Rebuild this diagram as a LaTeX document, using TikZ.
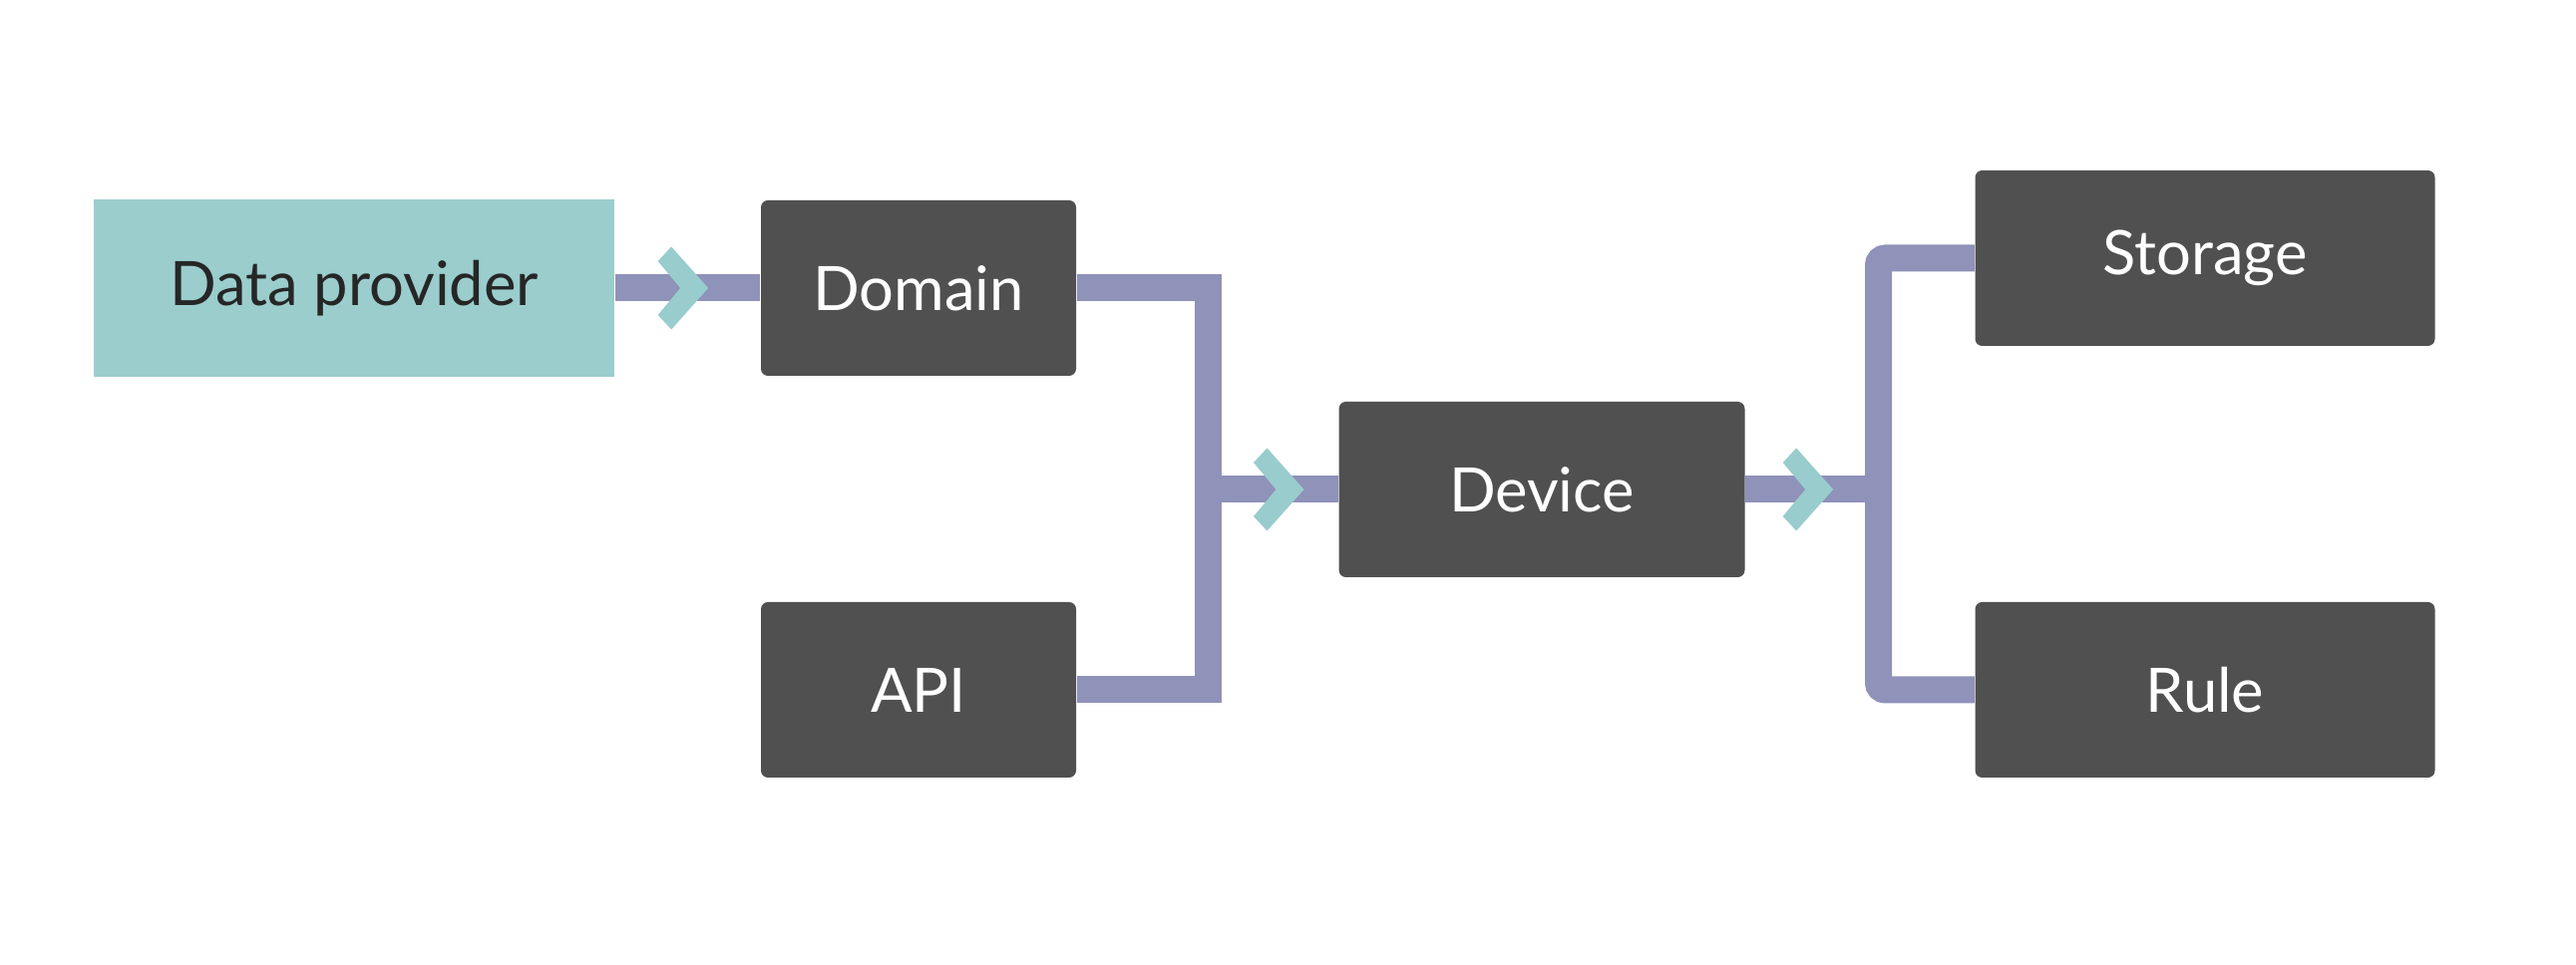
\documentclass[tikz,border=0pt]{standalone}
\usepackage{fontspec}
\setmainfont{Lato}
\definecolor{tealbox}{HTML}{9BCDCD}
\definecolor{darkbox}{HTML}{505050}
\definecolor{pipecol}{HTML}{8F92B9}
\definecolor{chevcol}{HTML}{99CCCC}
\newcommand{\chevron}[2]{\fill[chev, shift={(#1)}, xshift=#2] (0,0.27) -- (0.135,0.415) -- (0.505,0) -- (0.135,-0.415) -- (0,-0.27) -- (0.225,0) -- cycle;}
\begin{document}
\begin{tikzpicture}[
    box/.style={rectangle, rounded corners=2pt, fill=darkbox, text=white, minimum height=1.76cm, font=\fontsize{17.5}{20}\selectfont, inner sep=0pt},
    source/.style={rectangle, fill=tealbox, text=black!85, minimum width=5.22cm, minimum height=1.78cm, font=\fontsize{17.5}{20}\selectfont, inner sep=0pt},
    pipe/.style={draw=pipecol, line width=0.27cm},
    chev/.style={fill=chevcol}
  ]
  \useasboundingbox (0,0) rectangle (25.83,9.68);
  \node[source] (data) at (3.55,6.79) {Data provider};
  \node[box, minimum width=3.16cm] (domain) at (9.21,6.79) {Domain};
  \node[box, minimum width=3.16cm] (api) at (9.21,2.76) {API};
  \node[box, minimum width=4.07cm] (device) at (15.46,4.77) {Device};
  \node[box, minimum width=4.61cm] (storage) at (22.11,7.09) {Storage};
  \node[box, minimum width=4.61cm] (rule) at (22.11,2.76) {Rule};
  \coordinate (jl) at (12.115,4.77);
  \coordinate (jr) at (18.835,4.77);
  % links
  \draw[pipe] (data.east) -- (domain.west);
  \draw[pipe] (domain.east) -| (jl) |- (api.east);
  \draw[pipe] (jl) -- (device.west);
  \draw[pipe] (device.east) -- (jr);
  \draw[pipe, rounded corners=2pt] (storage.west) -| (jr) |- (rule.west);
  % arrow marks
  \chevron{data.east}{4.3mm}
  \chevron{jl}{4.55mm}
  \chevron{device.east}{3.75mm}
\end{tikzpicture}
\end{document}
